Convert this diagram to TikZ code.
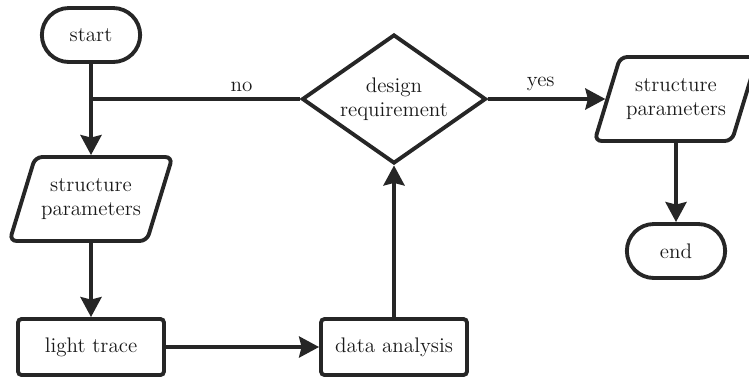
\documentclass[tikz,border=0pt]{standalone}
\usetikzlibrary{shapes.geometric,shapes.misc,arrows.meta}
\tikzset{
  flow/.style={line width=2.2pt, draw=black!85, text=black!90},
  terminal/.style={flow, rounded rectangle, minimum width=2.2cm, minimum height=1.08cm},
  io/.style={flow, trapezium, trapezium left angle=64, trapezium right angle=116,
    trapezium stretches body, minimum width=3.24cm, minimum height=1.68cm,
    rounded corners=4pt, align=center},
  process/.style={flow, rectangle, minimum width=2.92cm, minimum height=1.12cm, rounded corners=2pt},
  decision/.style={flow, diamond, minimum width=3.68cm, minimum height=2.58cm, inner sep=0pt},
  link/.style={line width=2.2pt, draw=black!85, -{Stealth[length=0.4cm,width=0.42cm,inset=0.05cm]}},
  plain/.style={line width=2.2pt, draw=black!85},
  tag/.style={text=black!90, align=center}
}
\begin{document}
\begin{tikzpicture}[x=0.02cm,y=-0.02cm,font=\fontsize{12}{13.5}\selectfont]
\useasboundingbox (0,0) rectangle (749,376);
\node[terminal] (start) at (91,35) {start};
\node[io] (param1) at (91,199) {structure\\parameters};
\node[process] (trace) at (91,347) {light trace};
\node[process] (analysis) at (394,347) {data analysis};
\node[decision] (design) at (394,99) {};
\node[tag] (designtext) at (design) {design\\requirement};
\node[io] (param2) at (676,99) {structure\\parameters};
\node[terminal] (end) at (676,251) {end};
\coordinate (join) at (start.south |- design.west);
\draw[link] (start) -- (param1);
\draw[plain] (design.west) -- node[pos=0.28,above,tag]{no} (join);
\draw[link] (param1) -- (trace);
\draw[link] (trace) -- (analysis);
\draw[link] (analysis) -- (design);
\draw[link] (design.east) -- node[pos=0.45,above,tag]{yes} (param2);
\draw[link] (param2) -- (end);
\end{tikzpicture}
\end{document}
